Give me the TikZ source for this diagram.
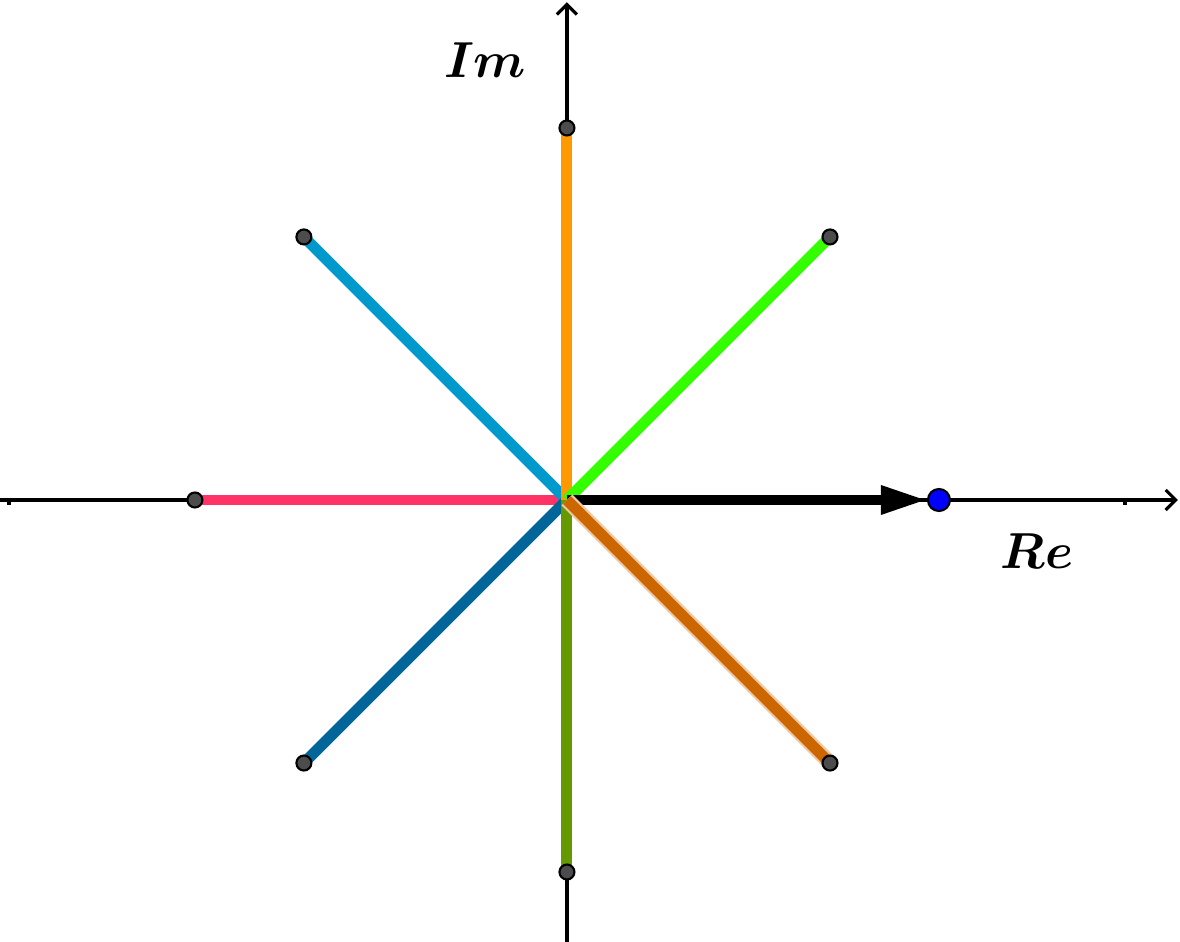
\documentclass[tikz,border=0pt]{standalone}
\usepackage{amsmath,amssymb}
\usepackage{xcolor}
\usepackage{tikz}
\usetikzlibrary{arrows.meta}

\definecolor{rayorange}{HTML}{FF9900}
\definecolor{raygreen}{HTML}{33FF00}
\definecolor{raycyan}{HTML}{0099CC}
\definecolor{raypink}{HTML}{FF3366}
\definecolor{raynavy}{HTML}{006699}
\definecolor{rayolive}{HTML}{669900}
\definecolor{raybrown}{HTML}{CC6600}

\begin{document}
\begin{tikzpicture}[
    x=1.86cm, y=1.86cm,
    axis/.style={
        line width=0.9pt,
        -{Straight Barb[length=1mm,width=2mm]}
    },
    ray/.style={line width=3.1pt},
    vec/.style={
        line width=2.6pt,
        -{Triangle[length=4.6mm,width=2.7mm]}
    },
    endpoint/.style={
        circle, inner sep=0pt,
        minimum size=1.5mm,
        fill=black!70,
        draw=black, line width=0.6pt
    },
    unitpoint/.style={
        circle, inner sep=0pt,
        minimum size=2.2mm,
        fill=blue,
        draw=black, line width=0.6pt
    },
    axislabel/.style={font=\fontsize{15.8}{18}\selectfont, anchor=base}
]
    \useasboundingbox (-3.048,-2.376) rectangle (3.296,2.688);

    % axes
    \coordinate (O) at (0,0);
    \coordinate (xl) at (-3.048,0);
    \coordinate (xr) at (3.285,0);
    \coordinate (yb) at (0,-2.376);
    \coordinate (yt) at (0,2.676);
    \draw[axis] (xl) -- (xr);
    \draw[axis] (yb) -- (yt);

    % ticks
    \foreach \t in {-3,-2,-1,1,2,3}
        \draw[line width=0.9pt] (\t,0) -- (\t,-0.025);
    \foreach \t in {-2,-1,1,2}
        \draw[line width=0.9pt] (0,\t) -- (-0.025,\t);

    % rays (brown one last, it lies on top)
    \foreach \ang/\col in {180/raypink, 135/raycyan, 225/raynavy, 90/rayorange,
                           45/raygreen, 270/rayolive}{
        \coordinate (p\ang) at (\ang:2);
        \draw[ray, \col] (O) -- (p\ang);
    }
    \coordinate (p315) at (315:2);

    % vector to the unit point
    \node[unitpoint] (z) at (2,0) {};
    \draw[vec] (O) -- (z.west);

    \draw[line width=4.4pt, raybrown!35] (O) -- (p315);
    \draw[ray, raybrown] (O) -- (p315);

    % end points
    \foreach \ang in {90,45,135,180,225,270,315}
        \node[endpoint] (d\ang) at (p\ang) {};

    \node[axislabel] (im) at (-0.44,2.27) {$\boldsymbol{Im}$};
    \node[axislabel] (re) at (2.527,-0.37) {$\boldsymbol{Re}$};
\end{tikzpicture}
\end{document}
